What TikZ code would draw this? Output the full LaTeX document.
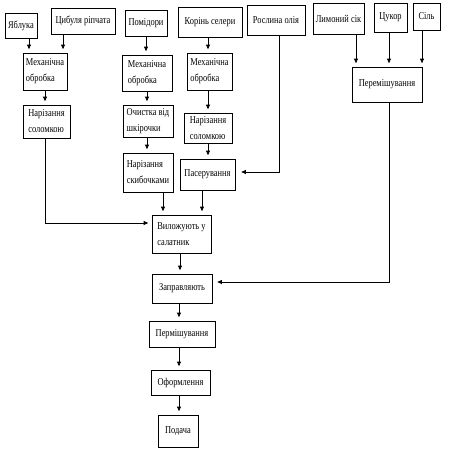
\documentclass[tikz,border=0pt]{standalone}
\usepackage{fontspec}
\setmainfont[FakeStretch=0.8]{Liberation Serif}
\usetikzlibrary{arrows.meta}
\begin{document}
\begin{tikzpicture}[x=1pt,y=-1pt,
  box/.style 2 args={draw, line width=0.7pt, minimum width=#1, minimum height=#2,
    inner xsep=2pt, inner ysep=0pt, align=left, font=\fontsize{10.5}{16}\selectfont},
  arr/.style={-{Triangle[length=4.5pt,width=4pt]}, line width=0.7pt, shorten >=3.5pt}]
\useasboundingbox (0,0) rectangle (451,458);
% top row
\node[box={32pt}{25pt}] (yab) at (21,25.5) {Яблука};
\node[box={64pt}{26pt}] (cyb) at (83,21) {Цибуля ріпчата};
\node[box={42pt}{26pt}] (pom) at (146,23) {Помідори};
\node[box={64pt}{30pt}] (kor) at (210,22) {Корінь селери};
\node[box={58pt}{30pt}] (oliya) at (276,20) {Рослина олія};
\node[box={51pt}{31pt}] (lym) at (338.5,18.5) {Лимоний сік};
\node[box={33pt}{29pt}] (cuk) at (390.5,17.5) {Цукор};
\node[box={27pt}{27pt}] (sil) at (426.5,16.5) {Сіль};
% processing
\node[box={70pt}{35pt}] (perR) at (387,84.5) {Перемішування};
\node[box={44pt}{37pt}] (mech1) at (45,71.5) {Механічна\\обробка};
\node[box={47pt}{33pt}] (nar1) at (46.5,121.5) {Нарізання\\соломкою};
\node[box={50pt}{36pt}] (mech2) at (147,73) {Механічна\\обробка};
\node[box={45pt}{37pt}] (mech3) at (209.5,71.5) {Механічна\\обробка};
\node[box={50pt}{32pt}] (och) at (148,121) {Очистка від\\шкірочки};
\node[box={48pt}{30pt}] (nar3) at (208,128) {Нарізання\\соломкою};
\node[box={50pt}{39pt}] (skyb) at (148,172.5) {Нарізання\\скибочками};
\node[box={55pt}{31pt}] (pas) at (207.5,174.5) {Пасерування};
\node[box={59pt}{38pt}] (vyl) at (181.5,234) {Виложують у\\салатник};
\node[box={60pt}{29pt}] (zapr) at (182,288.5) {Заправляють};
\node[box={66pt}{26pt}] (perm) at (182,334) {Пермішування};
\node[box={59pt}{25pt}] (ofo) at (180.5,382.5) {Оформлення};
\node[box={40pt}{32pt}] (pod) at (178,431) {Подача};
% connectors
\draw[arr] ([xshift=8pt]yab.south) coordinate (a1) -- (a1 |- mech1.north);
\draw[arr] ([xshift=-20pt]cyb.south) coordinate (a2) -- (a2 |- mech1.north);
\draw[arr] (mech1.south) -- (mech1.south |- nar1.north);
\draw[arr] (mech1.south |- nar1.south) |- ([yshift=11pt]vyl.west);
\draw[arr] (pom.south) -- (pom.south |- mech2.north);
\draw[arr] (mech2.south) -- (mech2.south |- och.north);
\draw[arr] (mech2.south |- och.south) -- (mech2.south |- skyb.north);
\draw[arr] ([xshift=-2pt]kor.south) coordinate (a3) -- (a3 |- mech3.north);
\draw[arr] (a3 |- mech3.south) -- (a3 |- nar3.north);
\draw[arr] (a3 |- nar3.south) -- (a3 |- pas.north);
\draw[arr] ([xshift=15pt]skyb.south) coordinate (a4) -- (a4 |- vyl.north);
\draw[arr] ([xshift=-5.5pt]pas.south) coordinate (a5) -- (a5 |- vyl.north);
\draw[arr, shorten >=6pt] ([xshift=3pt]oliya.south) |- ([yshift=2.5pt]pas.east);
\draw[arr] ([xshift=17.5pt]lym.south) coordinate (a6) -- (a6 |- perR.north);
\draw[arr] ([xshift=-1.5pt]cuk.south) coordinate (a7) -- (a7 |- perR.north);
\draw[arr] ([xshift=-4.5pt]sil.south) coordinate (a8) -- (a8 |- perR.north);
\draw[arr, shorten >=5pt] ([xshift=2pt]perR.south) |- ([yshift=6.5pt]zapr.east);
\draw[arr] ([xshift=-1.5pt]vyl.south) coordinate (a9) -- (a9 |- zapr.north);
\draw[arr] ([xshift=-3pt]zapr.south) coordinate (b1) -- (b1 |- perm.north);
\draw[arr] (b1 |- perm.south) -- (b1 |- ofo.north);
\draw[arr] (b1 |- ofo.south) -- (b1 |- pod.north);
\end{tikzpicture}
\end{document}
